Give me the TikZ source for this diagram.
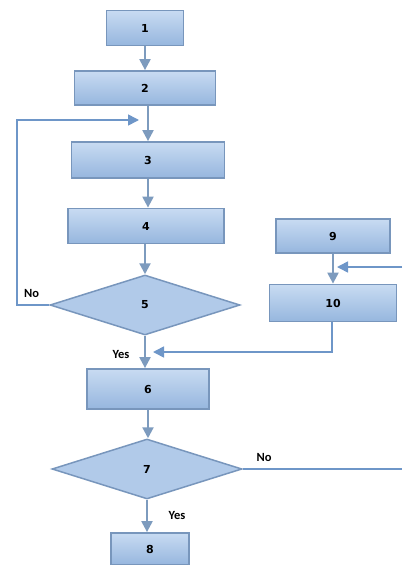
\documentclass[tikz,border=0pt]{standalone}
\usepackage{fontspec}
\setmainfont{DejaVu Sans}
\newfontfamily\lblfont{Carlito}
\usetikzlibrary{shapes.geometric,arrows.meta}
\definecolor{boxtop}{RGB}{200,219,242}
\definecolor{boxbot}{RGB}{150,182,222}
\definecolor{boxline}{RGB}{120,150,188}
\definecolor{arrowc}{RGB}{125,155,190}
\definecolor{linec}{RGB}{110,150,200}
\tikzset{
  procbox/.style={rectangle,draw=boxline,line width=1.8pt,top color=boxtop,bottom color=boxbot,
    font=\bfseries\fontsize{11}{12}\selectfont,inner sep=0pt},
  decbox/.style={diamond,draw=boxline,line width=1.5pt,fill=boxtop!55!boxbot,
    font=\bfseries\fontsize{11}{12}\selectfont,inner sep=0pt,minimum width=190pt,minimum height=60pt},
  flow/.style={draw=arrowc,line width=2.2pt,-{Triangle[width=11pt,length=11pt]}},
  plain/.style={draw=arrowc,line width=2pt},
  thinflow/.style={draw=linec,line width=1.6pt,-{Triangle[width=11pt,length=11pt]}},
  lbl/.style={font=\lblfont\bfseries\fontsize{12.5}{14}\selectfont,inner sep=0pt}
}
\begin{document}
\begin{tikzpicture}[x=1pt,y=-1pt]
\useasboundingbox (0,0) rectangle (402,565);
\node[procbox,minimum width=77pt,minimum height=35pt] (n1) at (145,28) {1};
\node[procbox,minimum width=141pt,minimum height=34pt] (n2) at (145,88) {2};
\node[procbox,minimum width=153pt,minimum height=36pt] (n3) at (148,160) {3};
\node[procbox,minimum width=156pt,minimum height=35pt] (n4) at (146,226) {4};
\node[decbox] (n5) at (145,305) {5};
\node[procbox,minimum width=114pt,minimum height=34pt] (n9) at (333,236) {9};
\node[procbox,minimum width=127pt,minimum height=37pt] (n10) at (333,303) {10};
\node[procbox,minimum width=122pt,minimum height=40pt] (n6) at (148,389) {6};
\node[decbox] (n7) at (147,469) {7};
\node[procbox,minimum width=78pt,minimum height=32pt] (n8) at (150,549) {8};

\coordinate (loopL) at (17,305);
\coordinate (loopE) at (139,120);
\coordinate (rin) at (402,267);
\coordinate (rend) at (337,267);
\coordinate (mrg) at (153,352);
\coordinate (noEnd) at (402,469);

\draw[flow] (n1.south) -- (n2.north);
\draw[flow] (n2.south -| n3.north) -- (n3.north);
\draw[flow] (n3.south) -- (n3.south |- n4.north);
\draw[flow] (n4.south -| n5.north) -- (n5.north);
\draw[thinflow] (n5.west) -- (loopL) |- (loopE);
\draw[flow] (n5.south) -- (n5.south |- n6.north);
\draw[flow] (n9.south) -- (n10.north);
\draw[thinflow] (rin) -- (rend);
\draw[thinflow] (n10.south -| 332,0) |- (mrg);
\draw[flow] (n6.south) -- (n6.south |- n7.north);
\draw[flow] (n7.south) -- (n7.south |- n8.north);
\draw[draw=linec,line width=1.6pt] (n7.east) -- (noEnd);

\node[lbl,anchor=south west] (lno5) at (24,298) {No};
\node[lbl] (lyes5) at (121,354) {Yes};
\node[lbl] (lno7) at (264,457) {No};
\node[lbl] (lyes7) at (177,515) {Yes};
\end{tikzpicture}
\end{document}
